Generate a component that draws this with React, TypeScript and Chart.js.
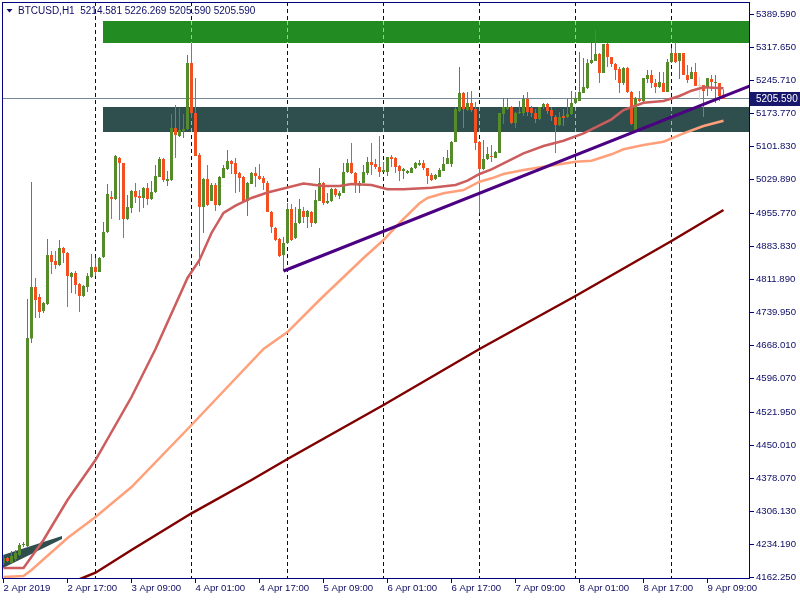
import React, { useEffect, useRef } from "react";
import { Chart, registerables } from "chart.js";

Chart.register(...registerables);

// ---- Candles (BTCUSD, H1), one per hour, index 0 = first bar ----
const openP = [
  4193.9, 4204.8, 4193.9, 4202.6, 4211.3, 4233.1, 4230.9, 4683.3, 4795.5, 4773.7,
  4743.2, 4758.5, 4865.3, 4852.2, 4843.5, 4880.6, 4869.7, 4817.3, 4826.1, 4802.1,
  4775.9, 4795.5, 4817.3, 4839.1, 4828.2, 4860.9, 4915.4, 4991.7, 4987.4, 5076.8,
  5065.9, 4943.8, 4967.8, 5004.8, 4993.9, 4989.6, 5011.4, 4987.4, 5002.6, 5035.3,
  5074.6, 5026.6, 5028.8, 5142.2, 5124.7, 5135.6, 5140.0, 5283.9, 5174.9, 5083.3,
  4969.9, 5031.0, 4983.0, 5017.9, 4974.3, 5033.2, 5052.8, 5070.2, 5065.9, 5044.1,
  5035.3, 4983.0, 5020.1, 5044.1, 5037.5, 5033.2, 5022.3, 4959.0, 4924.2, 4900.2,
  4865.3, 4891.5, 4965.6, 4902.4, 4935.1, 4961.2, 4948.1, 4959.0, 4935.1, 4983.0,
  5022.3, 4978.7, 4983.0, 5009.2, 4993.9, 5000.5, 5046.2, 5065.9, 5044.1, 5015.7,
  5022.3, 5044.1, 5068.0, 5063.7, 5057.1, 5046.2, 5046.2, 5078.9, 5076.8, 5059.3,
  5048.4, 5044.1, 5044.1, 5055.0, 5061.5, 5065.9, 5055.0, 5039.7, 5031.0, 5035.3,
  5048.4, 5063.7, 5063.7, 5111.6, 5179.2, 5218.5, 5181.4, 5196.7, 5183.6, 5111.6,
  5052.8, 5074.6, 5081.1, 5076.8, 5087.7, 5172.7, 5183.6, 5187.9, 5153.1, 5174.9,
  5174.9, 5205.4, 5185.8, 5174.9, 5161.8, 5187.9, 5194.5, 5181.4, 5166.1, 5148.7,
  5168.3, 5166.1, 5172.7, 5196.7, 5201.0, 5218.5, 5229.4, 5283.9, 5288.2, 5303.5,
  5262.1, 5325.3, 5296.9, 5281.7, 5270.8, 5240.3, 5273.0, 5220.6, 5137.8, 5205.4,
  5201.0, 5249.0, 5257.7, 5240.3, 5231.5, 5240.3, 5220.6, 5286.0, 5305.7, 5288.2,
  5305.7, 5257.7, 5249.0, 5264.2, 5233.7, 5235.9, 5229.4, 5249.0, 5240.3, 5240.3,
  5214.581,
];
const highP = [
  4211.3, 4206.9, 4220.0, 4222.2, 4237.5, 4239.6, 4769.4, 5024.4, 4815.2, 4780.3,
  4762.8, 4900.2, 4874.0, 4874.0, 4898.0, 4882.7, 4871.8, 4828.2, 4830.4, 4804.3,
  4799.9, 4826.1, 4867.5, 4858.8, 4860.9, 4937.2, 5020.1, 5004.8, 5083.3, 5078.9,
  5065.9, 4996.1, 5007.0, 5022.3, 5007.0, 5013.5, 5022.3, 5026.6, 5061.5, 5078.9,
  5076.8, 5048.4, 5172.7, 5192.3, 5185.8, 5172.7, 5301.3, 5327.5, 5251.2, 5087.7,
  5033.2, 5061.5, 5022.3, 5022.3, 5037.5, 5061.5, 5094.2, 5072.4, 5076.8, 5046.2,
  5037.5, 5024.4, 5046.2, 5057.1, 5063.7, 5037.5, 5026.6, 4961.2, 4926.3, 4902.4,
  4904.5, 4978.7, 4976.5, 4969.9, 4987.4, 4969.9, 4963.4, 4961.2, 5007.0, 5055.0,
  5024.4, 5000.5, 5011.4, 5011.4, 5004.8, 5065.9, 5074.6, 5109.5, 5046.2, 5026.6,
  5061.5, 5078.9, 5109.5, 5074.6, 5124.7, 5068.0, 5078.9, 5083.3, 5078.9, 5061.5,
  5055.0, 5050.6, 5057.1, 5068.0, 5072.4, 5072.4, 5055.0, 5044.1, 5041.9, 5055.0,
  5078.9, 5094.2, 5113.8, 5187.9, 5275.1, 5220.6, 5220.6, 5222.8, 5198.8, 5113.8,
  5116.0, 5100.7, 5105.1, 5092.0, 5174.9, 5207.6, 5207.6, 5190.1, 5177.0, 5201.0,
  5214.1, 5220.6, 5190.1, 5183.6, 5187.9, 5196.7, 5196.7, 5187.9, 5170.5, 5177.0,
  5183.6, 5205.4, 5222.8, 5220.6, 5307.8, 5294.8, 5292.6, 5327.5, 5355.8, 5305.7,
  5325.3, 5327.5, 5296.9, 5283.9, 5275.1, 5275.1, 5275.1, 5222.8, 5209.7, 5222.8,
  5251.2, 5268.6, 5268.6, 5249.0, 5264.2, 5264.2, 5292.6, 5316.6, 5329.6, 5305.7,
  5305.7, 5279.5, 5275.1, 5283.9, 5253.3, 5235.9, 5251.2, 5257.7, 5257.7, 5240.3,
  5226.269,
];
const lowP = [
  4189.5, 4196.0, 4191.7, 4198.2, 4209.1, 4228.7, 4226.6, 4673.5, 4727.9, 4727.9,
  4738.9, 4756.3, 4823.9, 4834.8, 4841.3, 4847.9, 4751.9, 4782.5, 4780.3, 4741.0,
  4773.7, 4784.6, 4815.2, 4819.5, 4828.2, 4858.8, 4913.3, 4943.8, 4985.2, 4941.6,
  4902.4, 4941.6, 4956.9, 4978.7, 4959.0, 4967.8, 4974.3, 4985.2, 5000.5, 5035.3,
  5024.4, 5015.7, 5026.6, 5076.8, 5122.5, 5120.4, 5137.8, 5164.0, 5081.1, 4841.3,
  4913.3, 4972.1, 4983.0, 4961.2, 4972.1, 5033.2, 5050.6, 5041.9, 5000.5, 5002.6,
  4980.8, 4950.3, 5020.1, 5013.5, 5028.8, 5007.0, 4959.0, 4913.3, 4895.8, 4860.9,
  4830.4, 4889.3, 4895.8, 4900.2, 4932.9, 4935.1, 4924.2, 4926.3, 4932.9, 4983.0,
  4974.3, 4976.5, 4980.8, 4991.7, 4987.4, 5000.5, 5044.1, 5041.9, 5000.5, 5000.5,
  5022.3, 5039.7, 5039.7, 5052.8, 5035.3, 5046.2, 5037.5, 5057.1, 5044.1, 5026.6,
  5031.0, 5041.9, 5044.1, 5052.8, 5059.3, 5050.6, 5020.1, 5026.6, 5028.8, 5035.3,
  5048.4, 5063.7, 5057.1, 5111.6, 5177.0, 5142.2, 5179.2, 5177.0, 5094.2, 4956.9,
  5050.6, 5072.4, 5068.0, 5076.8, 5087.7, 5150.9, 5181.4, 5150.9, 5142.2, 5172.7,
  5168.3, 5168.3, 5166.1, 5153.1, 5159.6, 5183.6, 5172.7, 5157.4, 5087.7, 5146.5,
  5146.5, 5164.0, 5170.5, 5194.5, 5201.0, 5218.5, 5227.2, 5281.7, 5288.2, 5240.3,
  5262.1, 5275.1, 5275.1, 5246.8, 5218.5, 5235.9, 5218.5, 5148.7, 5135.6, 5198.8,
  5198.8, 5240.3, 5229.4, 5218.5, 5229.4, 5220.6, 5220.6, 5283.9, 5283.9, 5249.0,
  5257.7, 5240.3, 5249.0, 5233.7, 5203.2, 5166.1, 5211.9, 5222.8, 5196.7, 5201.0,
  5205.59,
];
const closeP = [
  4204.8, 4198.2, 4209.1, 4215.7, 4233.1, 4235.3, 4684.4, 4795.5, 4767.2, 4741.0,
  4760.7, 4865.3, 4850.0, 4843.5, 4880.6, 4869.7, 4819.5, 4826.1, 4799.9, 4775.9,
  4797.7, 4819.5, 4839.1, 4828.2, 4858.8, 4915.4, 4998.3, 4987.4, 5081.1, 5065.9,
  4943.8, 4969.9, 5004.8, 4991.7, 4989.6, 5011.4, 4987.4, 5002.6, 5037.5, 5074.6,
  5028.8, 5031.0, 5142.2, 5126.9, 5137.8, 5140.0, 5283.9, 5174.9, 5081.1, 4969.9,
  5031.0, 4974.3, 5017.9, 4974.3, 5035.3, 5055.0, 5070.2, 5063.7, 5041.9, 5033.2,
  4980.8, 5022.3, 5044.1, 5037.5, 5031.0, 5022.3, 4959.0, 4926.3, 4898.0, 4863.1,
  4891.5, 4965.6, 4898.0, 4935.1, 4965.6, 4948.1, 4961.2, 4935.1, 4985.2, 5022.3,
  4978.7, 4983.0, 5009.2, 4996.1, 5000.5, 5046.2, 5065.9, 5044.1, 5020.1, 5022.3,
  5046.2, 5068.0, 5061.5, 5057.1, 5046.2, 5050.6, 5078.9, 5074.6, 5057.1, 5048.4,
  5052.8, 5048.4, 5055.0, 5065.9, 5065.9, 5055.0, 5037.5, 5028.8, 5039.7, 5050.6,
  5063.7, 5076.8, 5111.6, 5183.6, 5218.5, 5183.6, 5196.7, 5181.4, 5109.5, 5052.8,
  5074.6, 5085.5, 5078.9, 5089.8, 5174.9, 5187.9, 5187.9, 5153.1, 5174.9, 5177.0,
  5205.4, 5177.0, 5174.9, 5161.8, 5187.9, 5194.5, 5179.2, 5168.3, 5148.7, 5166.1,
  5164.0, 5172.7, 5196.7, 5207.6, 5220.6, 5231.5, 5283.9, 5290.4, 5303.5, 5262.1,
  5325.3, 5296.9, 5281.7, 5268.6, 5240.3, 5273.0, 5220.6, 5150.9, 5207.6, 5201.0,
  5251.2, 5257.7, 5240.3, 5231.5, 5242.4, 5220.6, 5286.0, 5305.7, 5286.0, 5305.7,
  5257.7, 5246.8, 5264.2, 5233.7, 5233.7, 5222.8, 5251.2, 5242.4, 5242.4, 5211.9,
  5205.59,
];

// ---- Moving averages (bar index / price) ----
const maRedIdx = [0, 5, 10, 16, 23, 32, 38, 46, 49, 52, 55, 58, 62, 66, 71, 75, 80, 84, 87, 92, 96, 100, 107, 113, 116, 119, 122, 127, 130, 135, 140, 145, 152, 155, 160, 165, 169, 172, 175, 180];
const maRedVal = [4183.0, 4183.0, 4244.0, 4331.2, 4418.4, 4555.7, 4660.4, 4815.2, 4854.4, 4913.3, 4956.9, 4972.8, 4989.6, 5001.6, 5012.5, 5021.2, 5015.7, 5015.7, 5020.1, 5017.9, 5008.5, 5008.5, 5012.0, 5017.9, 5027.3, 5041.9, 5052.1, 5073.9, 5087.0, 5102.9, 5114.5, 5130.6, 5161.1, 5181.4, 5197.3, 5201.0, 5211.9, 5223.5, 5230.9, 5228.7];

const maSalmonIdx = [0, 5, 7, 16, 23, 32, 47, 65, 71, 79, 90, 95, 99, 104, 106, 110, 115, 119, 122, 125, 130, 135, 143, 147, 152, 155, 160, 165, 170, 175, 180];
const maSalmonVal = [4163.3, 4165.5, 4178.6, 4248.4, 4294.1, 4359.5, 4494.7, 4660.4, 4697.4, 4767.2, 4858.8, 4898.0, 4935.1, 4978.0, 4989.6, 4999.8, 5007.0, 5025.1, 5032.5, 5041.9, 5050.6, 5057.8, 5068.7, 5070.9, 5084.8, 5095.7, 5105.1, 5112.3, 5130.6, 5146.5, 5158.1];

const maMaroonIdx = [19, 23, 32, 47, 62, 71, 95, 119, 143, 167, 180];
const maMaroonVal = [4158.5, 4172.7, 4222.2, 4302.2, 4374.8, 4420.6, 4538.3, 4660.4, 4775.9, 4895.8, 4963.4];

// ---- Trend line (start at bar 70 low, extended to the right edge) ----
const trendIdx = [70, 186.625];
const trendVal = [4830.4, 5233.7];

// ---- Zones (rectangles from bar 25 to the right edge) ----
const zoneStartIdx = 25;
const zoneTops = [5375.4, 5187.9];
const zoneBottoms = [5327.5, 5134.1];

// small channel object at the very start
const wedgeIdx = [-0.125, 14.625, 14.625, -0.125];
const wedgeVal = [4211.3, 4252.7, 4246.2, 4183.0];

// ---- Axes ----
const xTickIdx = [0, 16, 32, 48, 64, 80, 96, 112, 128, 144, 160, 176];
const xTickLabels = ["2 Apr 2019", "2 Apr 17:00", "3 Apr 09:00", "4 Apr 01:00", "4 Apr 17:00", "5 Apr 09:00", "6 Apr 01:00", "6 Apr 17:00", "7 Apr 09:00", "8 Apr 01:00", "8 Apr 17:00", "9 Apr 09:00"];
const daySeparatorIdx = [23, 47, 71, 95, 119, 143, 167];
const yTickVals = [4162.25, 4234.19, 4306.13, 4378.07, 4450.01, 4521.95, 4596.07, 4668.01, 4739.95, 4811.89, 4883.83, 4955.77, 5029.89, 5101.83, 5173.77, 5245.71, 5317.65, 5389.59];

const symbolTitle = "BTCUSD,H1  5214.581 5226.269 5205.590 5205.590";
const bidPrice = 5205.59;

const NAVY = "#000080";
const TEXT = "#0c0c66";
const BULL = "#568b2c";
const BEAR = "#f25022";
const DOJI = "#f3cdbd";
const FONT = "'Liberation Sans', Arial, sans-serif";

export default function App() {
  const ref = useRef<HTMLCanvasElement | null>(null);

  useEffect(() => {
    if (!ref.current) return;
    const idx = openP.map((_, i) => i);
    const colorOf = (i: number) =>
      closeP[i] > openP[i] ? BULL : closeP[i] < openP[i] ? BEAR : DOJI;

    const overlay = {
      id: "overlay",
      beforeDatasetsDraw(chart: any) {
        const { ctx, chartArea: a, scales } = chart;
        const x = scales.x;
        const y = scales.y;
        ctx.save();
        ctx.beginPath();
        ctx.rect(a.left, a.top, a.right - a.left, a.bottom - a.top);
        ctx.clip();

        // current bid line
        const py = Math.round(y.getPixelForValue(bidPrice) - 0.5) + 0.5;
        ctx.strokeStyle = "#778899";
        ctx.lineWidth = 1;
        ctx.beginPath();
        ctx.moveTo(a.left, py);
        ctx.lineTo(a.right, py);
        ctx.stroke();

        // day separators
        const sepPx = daySeparatorIdx.map((i) => Math.round(x.getPixelForValue(i) - 0.5) + 0.5);
        ctx.setLineDash([4, 3]);
        ctx.strokeStyle = NAVY;
        sepPx.forEach((px) => {
          ctx.beginPath();
          ctx.moveTo(px, a.top);
          ctx.lineTo(px, a.bottom);
          ctx.stroke();
        });
        ctx.setLineDash([]);

        // zones
        const zoneColors = ["#228b22", "#2f4f4f"];
        const sepOnZone = ["#e39be3", "#c9a4bd"];
        zoneTops.forEach((top, k) => {
          const x0 = x.getPixelForValue(zoneStartIdx);
          const y0 = Math.round(y.getPixelForValue(top));
          const y1 = Math.round(y.getPixelForValue(zoneBottoms[k]));
          ctx.fillStyle = zoneColors[k];
          ctx.fillRect(Math.round(x0 - 0.5), y0, a.right - Math.round(x0 - 0.5), y1 - y0);
          ctx.setLineDash([4, 3]);
          ctx.strokeStyle = sepOnZone[k];
          sepPx.forEach((px) => {
            if (px < x0) return;
            ctx.beginPath();
            ctx.moveTo(px, y0);
            ctx.lineTo(px, y1);
            ctx.stroke();
          });
          ctx.setLineDash([]);
        });

        // wedge object
        ctx.fillStyle = "#2f4f4f";
        ctx.beginPath();
        wedgeIdx.forEach((v, k) => {
          const px = x.getPixelForValue(v);
          const pv = y.getPixelForValue(wedgeVal[k]);
          if (k === 0) ctx.moveTo(px, pv);
          else ctx.lineTo(px, pv);
        });
        ctx.closePath();
        ctx.fill();
        ctx.restore();
      },
      afterDraw(chart: any) {
        const { ctx, chartArea: a, scales } = chart;
        const y = scales.y;
        ctx.save();
        // frame
        ctx.strokeStyle = NAVY;
        ctx.lineWidth = 1;
        ctx.strokeRect(a.left + 0.5, a.top + 0.5, a.right - a.left - 1, a.bottom - a.top - 1);

        // title
        ctx.fillStyle = TEXT;
        ctx.beginPath();
        ctx.moveTo(6.5, 9);
        ctx.lineTo(12.5, 9);
        ctx.lineTo(9.5, 12.5);
        ctx.closePath();
        ctx.fill();
        ctx.font = `10px ${FONT}`;
        ctx.textBaseline = "middle";
        ctx.textAlign = "left";
        ctx.fillText(symbolTitle, 18, 11);

        // bid price tag on the price axis
        const py = Math.round(y.getPixelForValue(bidPrice));
        ctx.fillStyle = "#17176b";
        ctx.fillRect(a.right, py - 7, 800 - a.right, 14);
        ctx.fillStyle = "#ffffff";
        ctx.fillText(bidPrice.toFixed(3), 756, py + 0.5);
        ctx.restore();
      },
    };

    const chart = new Chart(ref.current, {
      type: "bar",
      data: {
        datasets: [
          {
            type: "bar",
            label: "wick",
            data: idx.map((i) => ({ x: i, y: [lowP[i], highP[i]] })) as any,
            backgroundColor: idx.map(colorOf),
            barThickness: 1,
            grouped: false,
            inflateAmount: 0,
            borderWidth: 0,
            order: 6,
          } as any,
          {
            type: "bar",
            label: "body",
            data: idx.map((i) => ({ x: i, y: [openP[i], closeP[i]] })) as any,
            backgroundColor: idx.map(colorOf),
            barThickness: 3,
            minBarLength: 1,
            grouped: false,
            inflateAmount: 0,
            borderWidth: 0,
            order: 5,
          } as any,
          {
            type: "line",
            label: "ma-slow",
            data: maMaroonIdx.map((v, k) => ({ x: v, y: maMaroonVal[k] })),
            borderColor: "#800000",
            borderWidth: 2.5,
            pointRadius: 0,
            tension: 0,
            clip: 0,
            order: 3,
          } as any,
          {
            type: "line",
            label: "ma-mid",
            data: maSalmonIdx.map((v, k) => ({ x: v, y: maSalmonVal[k] })),
            borderColor: "#ffa07a",
            borderWidth: 2.5,
            pointRadius: 0,
            tension: 0,
            clip: 0,
            order: 2,
          } as any,
          {
            type: "line",
            label: "ma-fast",
            data: maRedIdx.map((v, k) => ({ x: v, y: maRedVal[k] })),
            borderColor: "#cd5c5c",
            borderWidth: 2.5,
            pointRadius: 0,
            tension: 0,
            clip: 0,
            order: 1,
          } as any,
          {
            type: "line",
            label: "trend",
            data: trendIdx.map((v, k) => ({ x: v, y: trendVal[k] })),
            borderColor: "#4b0082",
            borderWidth: 3,
            pointRadius: 0,
            tension: 0,
            clip: 0,
            order: 0,
          } as any,
        ],
      },
      options: {
        animation: false,
        responsive: false,
        events: [],
        layout: { padding: { left: 2, top: 2, right: 0, bottom: 0 } },
        plugins: { legend: { display: false }, tooltip: { enabled: false }, title: { display: false } },
        scales: {
          x: {
            type: "linear",
            position: "bottom",
            offset: false,
            min: -0.375,
            max: 186.625,
            grid: { offset: false, drawOnChartArea: false, drawTicks: true, tickLength: 4, color: NAVY },
            border: { display: false },
            afterBuildTicks: (s: any) => {
              s.ticks = xTickIdx.map((v) => ({ value: v }));
            },
            afterFit: (s: any) => {
              s.height = 21;
              s.paddingLeft = 0;
              s.paddingRight = 0;
            },
            ticks: {
              autoSkip: false,
              maxRotation: 0,
              minRotation: 0,
              align: "start",
              padding: 0,
              color: TEXT,
              font: { family: FONT, size: 9.6 },
              callback: (_v: any, i: number) => xTickLabels[i],
            },
          },
          y: {
            type: "linear",
            position: "right",
            min: 4158.98,
            max: 5416.84,
            grid: { drawOnChartArea: false, drawTicks: true, tickLength: 4, color: NAVY },
            border: { display: false },
            afterBuildTicks: (s: any) => {
              s.ticks = yTickVals.map((v) => ({ value: v }));
            },
            afterFit: (s: any) => {
              s.width = 50;
              s.paddingTop = 0;
              s.paddingBottom = 0;
            },
            ticks: {
              autoSkip: false,
              padding: 2,
              color: TEXT,
              font: { family: FONT, size: 9.6 },
              callback: (v: any) => Number(v).toFixed(3),
            },
          },
        },
      } as any,
      plugins: [overlay],
    });
    return () => chart.destroy();
  }, []);

  return (
    <div style={{ position: "absolute", left: 0, top: 0, width: 800, height: 600, background: "#ffffff" }}>
      <canvas ref={ref} width={800} height={600} style={{ display: "block", width: 800, height: 600 }} />
    </div>
  );
}
